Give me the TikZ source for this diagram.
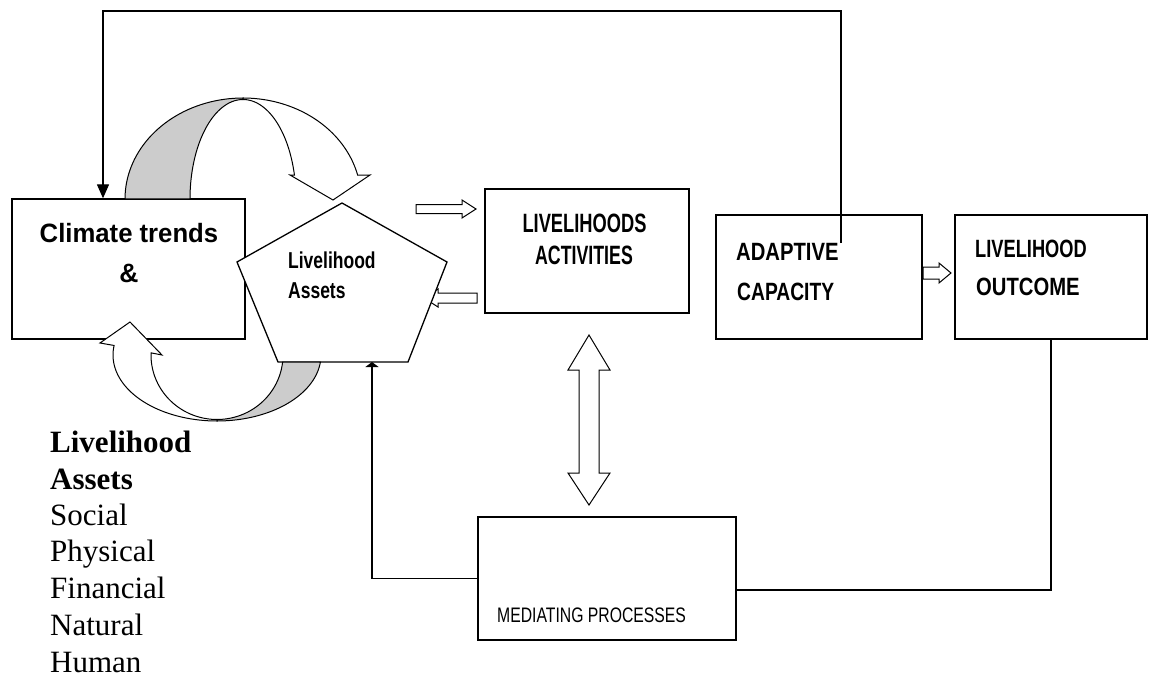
\documentclass[tikz,border=0pt]{standalone}
\usepackage{fontspec}
\setmainfont{Liberation Serif}
\newfontfamily\hd{Liberation Sans}
\usetikzlibrary{arrows.meta,calc}
\newcommand\hsq[2]{\scalebox{#1}[1]{#2}}
\begin{document}
\begin{tikzpicture}[x=1bp,y=-1bp,
  box/.style={draw, line width=1.3bp, fill=white, inner sep=0pt},
  txt/.style={inner sep=0pt},
  conn/.style={line width=1.3bp},
  blk/.style={draw, fill=white, line width=1bp, line join=miter},
  band/.style={draw, line width=1bp, line join=miter},
  bighd/.style={font=\hd\bfseries\fontsize{26.5bp}{30bp}\selectfont},
  midhd/.style={font=\hd\bfseries\fontsize{25bp}{28bp}\selectfont},
  penthd/.style={font=\hd\bfseries\fontsize{23bp}{26bp}\selectfont},
  medhd/.style={font=\hd\fontsize{21bp}{24bp}\selectfont},
  serif/.style={font=\fontsize{31bp}{36.7bp}\selectfont}
]
\useasboundingbox (0,0) rectangle (1149,677);

% boxes
\node[box, minimum width=233bp, minimum height=140bp] (climate) at (128.5,269) {};
\node[box, minimum width=204bp, minimum height=124bp] (activities) at (587,251) {};
\node[box, minimum width=206bp, minimum height=124bp] (adaptive) at (819,277) {};
\node[box, minimum width=192bp, minimum height=124bp] (outcome) at (1051,277) {};
\node[box, minimum width=258bp, minimum height=123bp] (mediating) at (607,578.5) {};

% box texts
\node[txt, bighd, anchor=base] (t1) at (129,242) {\hsq{0.97}{Climate trends}};
\node[txt, bighd, anchor=base] (t2) at (129,282) {\&};
\node[txt, bighd, anchor=base] (t3) at (584.5,232) {\hsq{0.69}{LIVELIHOODS}};
\node[txt, bighd, anchor=base] (t4) at (584,264) {\hsq{0.67}{ACTIVITIES}};
\node[txt, midhd, anchor=base west] (t5) at (736,260) {\hsq{0.81}{ADAPTIVE}};
\node[txt, midhd, anchor=base west] (t6) at (737,300) {\hsq{0.77}{CAPACITY}};
\node[txt, midhd, anchor=base west] (t7) at (975,257) {\hsq{0.73}{LIVELIHOOD}};
\node[txt, midhd, anchor=base west] (t8) at (976,295) {\hsq{0.81}{OUTCOME}};
\node[txt, medhd, anchor=base west] (t9) at (497,622) {\hsq{0.75}{MEDIATING PROCESSES}};

% left block arrow (head hidden behind pentagon)
\draw[blk] (477,293) -- (438,293) -- (438,289) -- (424,298) -- (438,307) -- (438,303) -- (477,303) -- cycle;

% pentagon
\filldraw[fill=white, line width=1.3bp, line join=miter]
  (342,203) -- (447,262) -- (408,362) -- (278,362) -- (237,262) -- cycle;
\coordinate (pb) at (372,362);
\node[txt, penthd, anchor=base west] (p1) at (288,268) {\hsq{0.76}{Livelihood}};
\node[txt, penthd, anchor=base west] (p2) at (288,298) {\hsq{0.76}{Assets}};

% right block arrow
\draw[blk] (416,204.5) -- (462,204.5) -- (462,200) -- (476,209) -- (462,218) -- (462,213.5) -- (416,213.5) -- cycle;
% adaptive -> outcome block arrow
\draw[blk] (923,267) -- (939,267) -- (939,263) -- (951,273) -- (939,283) -- (939,279) -- (923,279) -- cycle;
% double vertical block arrow
\draw[blk] (589,335) -- (610,370) -- (599,370) -- (599,473) -- (610,473) -- (589,505)
  -- (568,473) -- (579,473) -- (579,370) -- (568,370) -- cycle;

% upper curved arrow
\filldraw[band, fill=black!20]
  plot[domain=180:270, samples=40] ({243+118*cos(\x)},{199+101*sin(\x)})
  -- plot[domain=270:180, samples=40] ({243+53*cos(\x)},{199+99.5*sin(\x)}) -- cycle;
\filldraw[band, fill=white]
  plot[domain=270:346.3, samples=40] ({243+118*cos(\x)},{199+101*sin(\x)})
  -- (370,175) -- (333,200) -- (290,175)
  -- plot[domain=346.05:270, samples=40] ({243+53*cos(\x)},{199+99.5*sin(\x)}) -- cycle;

% lower curved arrow
\filldraw[band, fill=black!20]
  plot[domain=6.1:90, samples=40] ({217+104*cos(\x)},{355+66*sin(\x)})
  -- plot[domain=90:6.28, samples=40] ({217+66*cos(\x)},{355+64.5*sin(\x)}) -- cycle;
\filldraw[band, fill=white]
  plot[domain=90:188.3, samples=40] ({217+104*cos(\x)},{355+66*sin(\x)})
  -- (100,343) -- (130,322) -- (162,355)
  -- plot[domain=181.9:90, samples=40] ({217+66*cos(\x)},{355+64.5*sin(\x)}) -- cycle;

% feedback connector: adaptive -> climate
\coordinate (fbstart) at (841,243);
\coordinate (fbcorner) at (103,11);
\draw[conn, -{Triangle[length=14bp, width=12bp]}] (fbstart) |- (fbcorner) -- (fbcorner |- climate.north);

% outcome -> mediating
\coordinate (m1) at (0,590);
\draw[conn] (outcome.south) |- (mediating.east |- m1);
% mediating -> pentagon
\draw[conn, -{Triangle[length=5bp, width=13bp]}] (mediating.west) -| (pb);

% left text
\node[txt, serif, anchor=base west] (l1) at (50,452) {\textbf{Livelihood}};
\node[txt, serif, anchor=base west] (l2) at (50,489) {\textbf{Assets}};
\node[txt, serif, anchor=base west] (l3) at (50,525) {Social};
\node[txt, serif, anchor=base west] (l4) at (50,561) {Physical};
\node[txt, serif, anchor=base west] (l5) at (50,598) {Financial};
\node[txt, serif, anchor=base west] (l6) at (50,635) {Natural};
\node[txt, serif, anchor=base west] (l7) at (50,672) {Human};
\end{tikzpicture}
\end{document}
